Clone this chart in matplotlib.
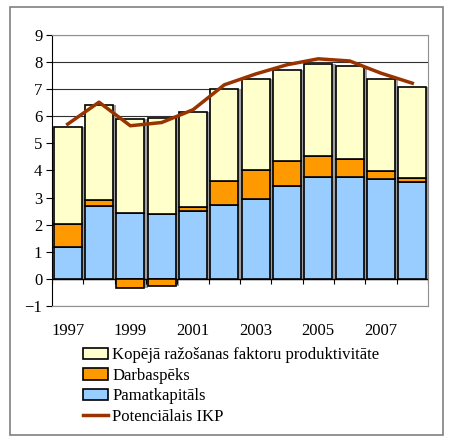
import numpy as np
import matplotlib
matplotlib.use('Agg')
import matplotlib.pyplot as plt
from matplotlib.patches import Patch, Rectangle
from matplotlib.lines import Line2D

plt.rcParams['font.family'] = 'serif'
plt.rcParams['font.serif'] = ['Liberation Serif', 'Times New Roman', 'DejaVu Serif']

years = [1997, 1998, 1999, 2000, 2001, 2002, 2003, 2004, 2005, 2006, 2007, 2008]
pamatkapitals = [1.19, 2.69, 2.42, 2.39, 2.52, 2.71, 2.93, 3.43, 3.77, 3.77, 3.68, 3.58]
darbaspeks = [0.83, 0.23, -0.34, -0.25, 0.13, 0.92, 1.08, 0.92, 0.76, 0.67, 0.31, 0.13]
kopeja = [3.60, 3.48, 3.48, 3.54, 3.50, 3.38, 3.36, 3.37, 3.39, 3.40, 3.39, 3.37]
potencialais = [5.71, 6.52, 5.65, 5.77, 6.24, 7.16, 7.56, 7.90, 8.12, 8.04, 7.59, 7.22]
tick_years = [1997, 1999, 2001, 2003, 2005, 2007]

c_blue = '#99ccff'
c_orange = '#ff9900'
c_yellow = '#ffffcc'
c_line = '#993300'

x = np.arange(len(years))
blue = np.array(pamatkapitals)
orange = np.array(darbaspeks)
yellow = np.array(kopeja)

# orange goes on top of blue if positive, below zero if negative
orange_bottom = np.where(orange >= 0, blue, 0)
yellow_bottom = blue + np.clip(orange, 0, None)
total = yellow_bottom + yellow

fig = plt.figure(figsize=(4.5, 4.37), dpi=100)
ax = fig.add_axes([0.1156, 0.2998, 0.8354, 0.6202])

fig.patches.append(Rectangle((10 / 450, 1 - 435 / 437), 433 / 450, 428 / 437,
                             transform=fig.transFigure, fill=False,
                             edgecolor='#808080', lw=1.2))

w = 0.9
# gray shadow behind bars
low = np.minimum(orange, 0)
ax.bar(x + 0.1, total - low, w, bottom=low, color='#a0a0a0', zorder=1)
ax.bar(x, blue, w, color=c_blue, edgecolor='black', lw=1.2, zorder=2)
ax.bar(x, orange, w, bottom=orange_bottom, color=c_orange, edgecolor='black', lw=1.2, zorder=2)
ax.bar(x, yellow, w, bottom=yellow_bottom, color=c_yellow, edgecolor='black', lw=1.2, zorder=2)
ax.plot(x, potencialais, color=c_line, lw=2.5, zorder=3)

ax.set_xlim(-0.5, 11.5)
ax.set_ylim(-1, 9)
ax.set_yticks(range(-1, 10))
ax.yaxis.grid(True, color='#303030', lw=0.8)
ax.set_axisbelow(True)
ax.axhline(0, color='black', lw=1, zorder=1.5)
ax.vlines(np.arange(-0.5, 12), -0.2, 0, color='black', lw=0.8, zorder=1.5)

ax.set_xticks([years.index(y) for y in tick_years])
ax.set_xticklabels([str(y) for y in tick_years], fontsize=12)
ax.tick_params(axis='x', length=0, pad=12)
ax.tick_params(axis='y', length=4, labelsize=12, direction='out', pad=3)

for s in ['top', 'right', 'bottom']:
    ax.spines[s].set_color('#909090')
ax.spines['left'].set_color('black')

handles = [
    Patch(facecolor=c_yellow, edgecolor='black', lw=1.2),
    Patch(facecolor=c_orange, edgecolor='black', lw=1.2),
    Patch(facecolor=c_blue, edgecolor='black', lw=1.2),
    Line2D([], [], color=c_line, lw=2.5),
]
labels = ['Kopējā ražošanas faktoru produktivitāte', 'Darbaspēks',
          'Pamatkapitāls', 'Potenciālais IKP']
fig.legend(handles, labels, loc='upper left', bbox_to_anchor=(0.185, 0.205),
           frameon=False, fontsize=12, handlelength=1.5, handleheight=0.65,
           handletextpad=0.25, labelspacing=0.27, borderpad=0, borderaxespad=0)

fig.savefig('out.png', dpi=100)
